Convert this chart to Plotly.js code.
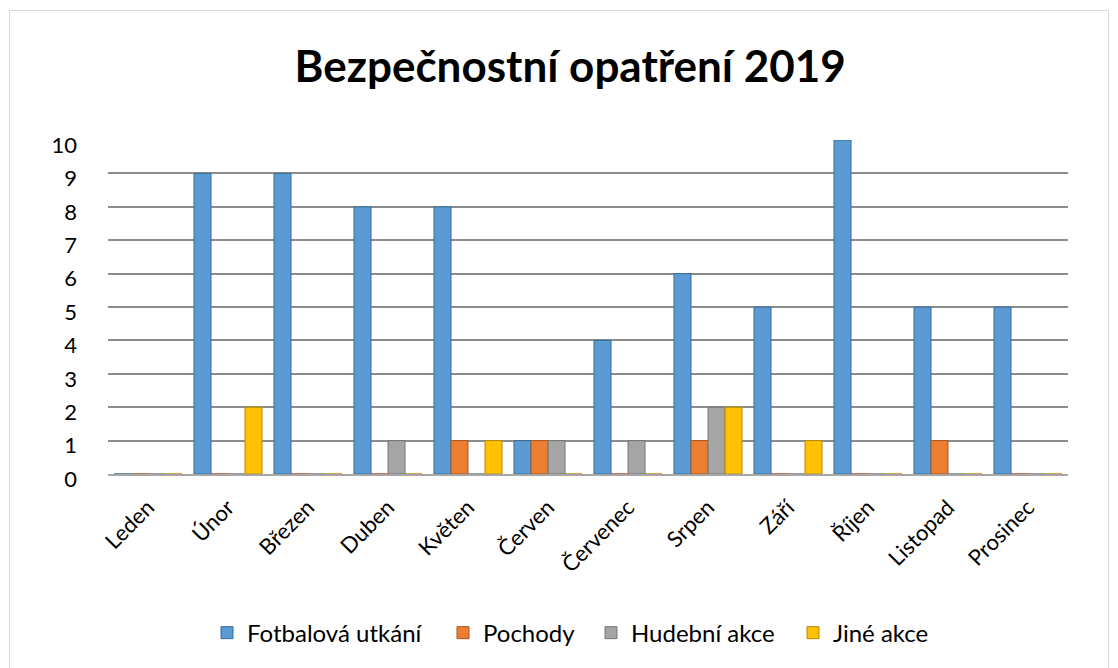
<!DOCTYPE html>
<html>
<head>
<meta charset="utf-8">
<script src="https://cdn.plot.ly/plotly-3.0.1.min.js"></script>
<style>
  html, body { margin: 0; padding: 0; background: #fff; }
  #chart { width: 1118px; height: 668px; }
  #frame { position: absolute; left: 9px; top: 10px; width: 1098px; height: 660px; border: 1px solid #d9d9d9; pointer-events: none; }
</style>
</head>
<body>
<div id="chart"></div>
<div id="frame"></div>
<script>
const months = ["Leden", "Únor", "Březen", "Duben", "Květen", "Červen", "Červenec", "Srpen", "Září", "Říjen", "Listopad", "Prosinec"];
const fotbal = [0, 9, 9, 8, 8, 1, 4, 6, 5, 10, 5, 5];
const pochody = [0, 0, 0, 0, 1, 1, 0, 1, 0, 0, 1, 0];
const hudebni = [0, 0, 0, 1, 0, 1, 1, 2, 0, 0, 0, 0];
const jine = [0, 2, 0, 0, 1, 0, 0, 2, 1, 0, 0, 0];
const seriesNames = ["Fotbalová utkání", "Pochody", "Hudební akce", "Jiné akce"];
const colors = ["#5B9BD5", "#ED7D31", "#A5A5A5", "#FFC000"];
const edgeColors = ["#3A6891", "#A9571F", "#767676", "#B68A00"];
const yTicks = [0, 1, 2, 3, 4, 5, 6, 7, 8, 9, 10];

const legendIds = ["legend", "legend2", "legend3", "legend4"];
const legendMarkerPx = [221, 457, 605, 807];

const W = 1118, H = 668;
const M = { l: 108, r: 50, t: 140, b: 192 };
const plotW = W - M.l - M.r;
const plotH = H - M.t - M.b;

const allSeries = [fotbal, pochody, hudebni, jine];
const traces = allSeries.map((vals, i) => ({
  type: "bar",
  name: seriesNames[i],
  x: months,
  y: vals,
  legend: legendIds[i],
  marker: { color: colors[i], line: { color: edgeColors[i], width: 1 } },
  hoverinfo: "x+y+name"
}));

const legendY = (H - M.b - 636) / plotH;
const legendBase = {
  orientation: "h",
  xanchor: "left",
  yanchor: "middle",
  y: legendY,
  bgcolor: "rgba(0,0,0,0)",
  font: { size: 24, color: "#000000", family: "Lato, 'Open Sans', sans-serif" },
  itemwidth: 30
};

const layout = {
  width: W,
  height: H,
  paper_bgcolor: "#ffffff",
  plot_bgcolor: "#ffffff",
  margin: M,
  font: { family: "Lato, 'Open Sans', sans-serif", color: "#000000" },
  title: {
    text: "<b>Bezpečnostní opatření 2019</b>",
    font: { family: "Lato, 'Open Sans', sans-serif", size: 44, color: "#000000" },
    x: 0.51, xanchor: "center",
    y: 0.90, yanchor: "middle"
  },
  barmode: "group",
  bargap: 0.15,
  bargroupgap: 0,
  xaxis: {
    type: "category",
    tickangle: -45,
    tickfont: { size: 22, color: "#000000" },
    ticklabelstandoff: 10,
    showline: true,
    linecolor: "#a6a6a6",
    linewidth: 2,
    showgrid: false,
    ticks: ""
  },
  yaxis: {
    range: [0, 10],
    tickvals: yTicks,
    ticktext: yTicks.map(String),
    tickfont: { size: 22, color: "#000000" },
    showgrid: true,
    gridcolor: "#8c8c8c",
    gridwidth: 2,
    zeroline: false,
    ticks: "",
    ticklabelstandoff: 30,
    ticklabelshift: 5,
    showline: false
  },
  showlegend: true
};

legendIds.forEach((id, i) => {
  layout[id] = Object.assign({}, legendBase, { x: (legendMarkerPx[i] - 14 - M.l) / plotW });
});

Plotly.newPlot("chart", traces, layout, { displayModeBar: false, staticPlot: true });
</script>
</body>
</html>
